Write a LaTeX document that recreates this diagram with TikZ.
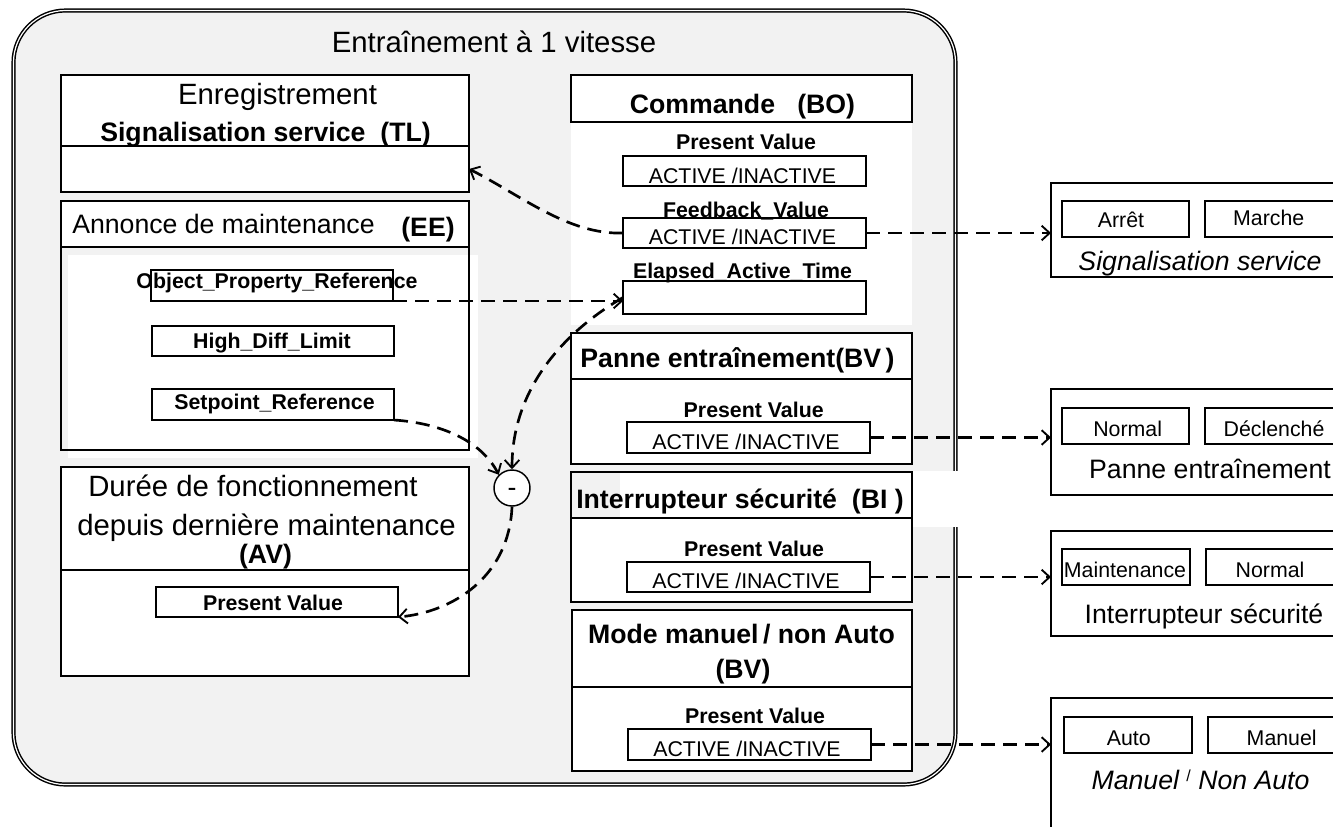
\documentclass[tikz,border=0pt]{standalone}
\usepackage{fontspec}
\setmainfont{Liberation Sans}
\usetikzlibrary{arrows.meta,fit}
\definecolor{panel}{HTML}{F2F2F2}
\begin{document}
\begin{tikzpicture}[x=0.75pt,y=-0.75pt,
  frame/.style={draw=black, line width=1.4pt, inner sep=0pt, outer sep=0pt},
  thin/.style={draw=black, line width=1.2pt, inner sep=0pt, outer sep=0pt},
  wbox/.style={frame, fill=white},
  large/.style={font=\fontsize{22}{26}\selectfont, inner sep=0pt, anchor=base},
  big/.style={font=\fontsize{20}{24}\selectfont, inner sep=0pt, anchor=base},
  bigb/.style={font=\fontsize{20}{24}\selectfont\bfseries, inner sep=0pt, anchor=base},
  bigi/.style={font=\fontsize{20}{24}\selectfont\itshape, inner sep=0pt, anchor=base},
  small/.style={font=\fontsize{16}{19}\selectfont, inner sep=0pt, anchor=base},
  smallb/.style={font=\fontsize{16}{19}\selectfont\bfseries, inner sep=0pt, anchor=base},
  link/.style={line width=2pt, dash pattern=on 10.5pt off 6pt,
    -{Straight Barb[length=6pt,width=11pt,line width=1.4pt]}},
]
\useasboundingbox (0,0) rectangle (1333,826);
\clip (0,0) rectangle (1333,826);
\fill[white] (0,0) rectangle (1333,826);

% drive frame
\draw[fill=panel, line width=1.1pt, double=white, double distance=0.9pt,
      rounded corners=39pt] (13.5,10.5) rectangle (955.5,784.5);
\node[large] (title) at (494,52) {Entraînement à 1 vitesse};

% white backgrounds behind some blocks
\fill[white] (68,255) rectangle (478,458);
\fill[white] (571,75) rectangle (912,325);
\fill[white] (620,471) rectangle (966,527);

% ---- left column ----
\node[wbox, fit={(61,75) (469,146)}] (enrHead) {};
\node[wbox, fit={(61,146) (469,192)}] (enrBody) {};
\node[large] (enrT1) at (277.5,104) {Enregistrement};
\node[bigb] (enrT2) at (265.5,141) {Signalisation service\ \ (TL)};

\node[wbox, fit={(61,201) (469,247)}] (annHead) {};
\node[frame, fit={(61,247) (469,450)}] (annBody) {};
\node[big, anchor=base west] (annT) at (72,233) {Annonce de maintenance};
\node[bigb] (annEE) at (428,236) {(EE)};
\node[thin, fit={(151,270) (393,301)}] (opr) {};
\node[smallb] (oprT) at (277,288) {Object\_Property\_Reference};
\node[thin, fit={(152,326) (394,356)}] (hdl) {};
\node[smallb] (hdlT) at (272,348) {High\_Diff\_Limit};
\node[thin, fit={(152,389) (394,420)}] (spr) {};
\node[smallb] (sprT) at (274.5,409) {Setpoint\_Reference};

\node[wbox, fit={(61,467) (469,570)}] (durHead) {};
\node[wbox, fit={(61,570) (469,676)}] (durBody) {};
\node[large] (durT1) at (253,496) {Durée de fonctionnement};
\node[large] (durT2) at (266.5,535) {depuis dernière maintenance};
\node[bigb] (durT3) at (265.5,563) {(AV)};
\node[thin, fit={(156,587) (398,617)}] (durPV) {};
\node[smallb] (durPVT) at (273,610) {Present Value};

% ---- middle column ----
\node[wbox, fit={(571,75) (912,122)}] (cmdHead) {};
\node[bigb] (cmdT) at (742.5,113) {Commande\ \ \ (BO)};
\node[smallb] (cmdPVT) at (746,149) {Present Value};
\node[thin, fit={(623,156) (866,186)}] (cmdPV) {};
\node[small] (cmdPVv) at (742.5,183) {ACTIVE /INACTIVE};
\node[smallb] (fbT) at (746,217) {Feedback\_Value};
\node[thin, fit={(623,218) (866,248)}] (fb) {};
\node[small] (fbv) at (742.5,244) {ACTIVE /INACTIVE};
\node[smallb] (eatT) at (742.5,278) {Elapsed\_Active\_Time};
\node[thin, fit={(623,281) (866,314)}] (eat) {};

\node[wbox, fit={(571,333) (912,379)}] (pnHead) {};
\node[wbox, fit={(571,379) (912,464)}] (pnBody) {};
\node[bigb] (pnT) at (737.5,367) {Panne entraînement(BV\,)};
\node[smallb] (pnPVT) at (753.7,417) {Present Value};
\node[thin, fit={(627,422) (870,453)}] (pnPV) {};
\node[small] (pnPVv) at (746,449) {ACTIVE /INACTIVE};

\node[frame, fit={(571,472) (912,518)}] (isHead) {};
\node[wbox, fit={(571,518) (912,602)}] (isBody) {};
\node[bigb] (isT) at (740,508) {Interrupteur sécurité\ \ (BI )};
\node[smallb] (isPVT) at (754,556) {Present Value};
\node[thin, fit={(627,562) (870,592)}] (isPV) {};
\node[small] (isPVv) at (746,588) {ACTIVE /INACTIVE};

\node[wbox, fit={(572,610) (912,687)}] (mmHead) {};
\node[wbox, fit={(572,687) (912,771)}] (mmBody) {};
\node[bigb] (mmT1) at (741.5,643) {Mode manuel\,/ non Auto};
\node[bigb] (mmT2) at (743,678) {(BV)};
\node[smallb] (mmPVT) at (755,723) {Present Value};
\node[thin, fit={(628,729) (871,760)}] (mmPV) {};
\node[small] (mmPVv) at (747,756) {ACTIVE /INACTIVE};

% ---- state panels on the right ----
\node[wbox, fit={(1051,183) (1345,277)}] (rSig) {};
\node[thin, fit={(1062,201) (1189,237)}] (rSigA) {};
\node[thin, fit={(1205,201) (1334,237)}] (rSigB) {};
\node[small] (rSigAT) at (1121,227) {Arrêt};
\node[small] (rSigBT) at (1268.7,225) {Marche};
\node[bigi] (rSigT) at (1200,270) {Signalisation service};

\node[wbox, fit={(1051,389) (1345,495)}] (rPn) {};
\node[thin, fit={(1062,408) (1189,444)}] (rPnA) {};
\node[thin, fit={(1205,408) (1334,444)}] (rPnB) {};
\node[small] (rPnAT) at (1127.7,436) {Normal};
\node[small] (rPnBT) at (1274,436) {Déclenché};
\node[big] (rPnT) at (1210,478) {Panne entraînement};

\node[wbox, fit={(1051,531) (1345,636)}] (rIs) {};
\node[thin, fit={(1062,549) (1190,585)}] (rIsA) {};
\node[thin, fit={(1206,549) (1334,585)}] (rIsB) {};
\node[small] (rIsAT) at (1125,577) {Maintenance};
\node[small] (rIsBT) at (1270,577) {Normal};
\node[big] (rIsT) at (1204,623) {Interrupteur sécurité};

\node[wbox, fit={(1051,698) (1345,840)}] (rMm) {};
\node[thin, fit={(1064,717) (1192,753)}] (rMmA) {};
\node[thin, fit={(1208,717) (1336,753)}] (rMmB) {};
\node[small] (rMmAT) at (1128.7,745) {Auto};
\node[small] (rMmBT) at (1281.7,745) {Manuel};
\node[bigi] (rMmT) at (1200.5,789)
  {Manuel\ {\upshape\fontsize{12}{14}\selectfont\raisebox{5.5pt}{/}}\ Non Auto};

% ---- difference block ----
\node[circle, draw, fill=white, line width=1.1pt, minimum size=27pt,
      inner sep=0pt] (minus) at (512,488) {};
\node[big] (minusT) at (512,496) {-};

% ---- signal links ----
\draw[link] (fb.west) .. controls +(-55,2) and +(50,25) .. (enrBody.east);
\draw[link] (fb.east) -- (fb.east -| rSig.west);
\draw[link] (opr.south east) -- (eat.west |- opr.south east);
\draw[link] (eat.west) .. controls +(-60,35) and +(0,-80) .. (minus.north);
\draw[link] (spr.south east) .. controls +(45,3) and +(-18,-35) .. (minus.north west);
\draw[link] (minus.south) .. controls +(-3,70) and +(55,-5) .. (durPV.south east);
\draw[link] (pnPV.east) -- (pnPV.east -| rPn.west);
\draw[link] (isPV.east) -- (isPV.east -| rIs.west);
\draw[link] (mmPV.east) -- (mmPV.east -| rMm.west);
\end{tikzpicture}
\end{document}
